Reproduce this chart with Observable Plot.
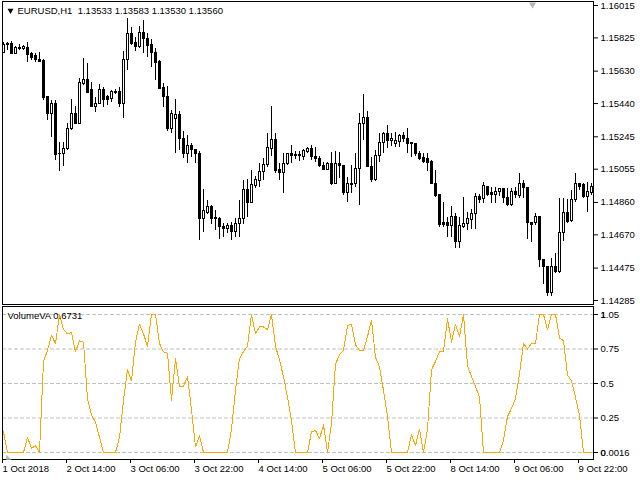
<!DOCTYPE html>
<html><head><meta charset="utf-8">
<script src="https://cdn.jsdelivr.net/npm/d3@7"></script>
<script src="https://cdn.jsdelivr.net/npm/@observablehq/plot@0.6"></script>
<style>
html,body{margin:0;padding:0;background:#fff;}
#wrap{position:relative;width:640px;height:480px;overflow:hidden;background:#fff;}
#wrap svg{position:absolute;left:0;}
</style></head><body><div id="wrap"></div>
<script>
// ---- data (EURUSD H1, one bar per hour) ----
const open = [1.15739,1.15781,1.15787,1.15733,1.15763,1.15757,1.15763,1.15728,1.15716,1.15698,
1.15692,1.15476,1.15381,1.15435,1.15147,1.15147,1.15171,1.15288,1.15381,1.15323,
1.15557,1.15581,1.15517,1.15417,1.15440,1.15517,1.15476,1.15464,1.15505,1.15505,
1.15440,1.15698,1.15850,1.15798,1.15769,1.15856,1.15821,1.15781,1.15739,1.15686,
1.15534,1.15476,1.15288,1.15347,1.15370,1.15235,1.15142,1.15189,1.15165,1.15142,
1.14760,1.14801,1.14831,1.14766,1.14760,1.14714,1.14702,1.14720,1.14684,1.14732,
1.14760,1.14931,1.14854,1.14954,1.14983,1.15036,1.15077,1.15171,1.15224,1.15048,
1.15030,1.15083,1.15142,1.15136,1.15130,1.15124,1.15153,1.15171,1.15124,1.15112,
1.15071,1.15053,1.15083,1.14971,1.15083,1.15071,1.14913,1.14971,1.14966,1.15059,
1.15318,1.15358,1.15065,1.14989,1.15130,1.15206,1.15259,1.15218,1.15200,1.15212,
1.15247,1.15235,1.15206,1.15200,1.15147,1.15118,1.15112,1.15100,1.14971,1.14902,
1.14737,1.14737,1.14720,1.14772,1.14626,1.14714,1.14732,1.14755,1.14790,1.14890,
1.14878,1.14948,1.14913,1.14902,1.14919,1.14936,1.14884,1.14843,1.14919,1.14896,
1.14971,1.14943,1.14737,1.14737,1.14772,1.14520,1.14479,1.14327,1.14479,1.14450,
1.14678,1.14801,1.14749,1.14872,1.14971,1.14960,1.14890,1.14913];
const high = [1.15798,1.15798,1.15804,1.15775,1.15787,1.15781,1.15798,1.15739,1.15733,1.15739,
1.15698,1.15482,1.15458,1.15458,1.15212,1.15212,1.15323,1.15464,1.15423,1.15587,
1.15704,1.15674,1.15563,1.15476,1.15552,1.15534,1.15488,1.15517,1.15522,1.15534,
1.15745,1.15939,1.15886,1.15827,1.15892,1.15927,1.15850,1.15815,1.15763,1.15692,
1.15557,1.15540,1.15399,1.15464,1.15393,1.15276,1.15253,1.15206,1.15171,1.15159,
1.14936,1.14872,1.14843,1.14813,1.14772,1.14737,1.14737,1.14743,1.14766,1.14872,
1.14989,1.14995,1.15048,1.15013,1.15088,1.15118,1.15264,1.15423,1.15264,1.15088,
1.15147,1.15147,1.15194,1.15159,1.15159,1.15171,1.15183,1.15194,1.15183,1.15130,
1.15094,1.15094,1.15153,1.15159,1.15153,1.15077,1.15007,1.15077,1.15147,1.15381,
1.15494,1.15393,1.15124,1.15165,1.15264,1.15270,1.15312,1.15264,1.15270,1.15259,
1.15270,1.15294,1.15206,1.15206,1.15159,1.15147,1.15147,1.15106,1.15048,1.14902,
1.14860,1.14772,1.14837,1.14796,1.14772,1.14890,1.14801,1.14819,1.14913,1.14907,
1.14977,1.14954,1.14948,1.14948,1.14943,1.14943,1.14943,1.14943,1.14948,1.15030,
1.14989,1.14948,1.14743,1.14796,1.14772,1.14520,1.14485,1.14532,1.14561,1.14884,
1.14884,1.14878,1.14931,1.15030,1.14971,1.14971,1.14977,1.14971];
const low = [1.15733,1.15751,1.15728,1.15728,1.15751,1.15751,1.15680,1.15692,1.15680,1.15680,
1.15458,1.15341,1.15241,1.15106,1.15042,1.15071,1.15165,1.15282,1.15318,1.15318,
1.15546,1.15499,1.15417,1.15387,1.15435,1.15417,1.15429,1.15446,1.15494,1.15417,
1.15352,1.15634,1.15781,1.15745,1.15763,1.15733,1.15710,1.15651,1.15575,1.15528,
1.15417,1.15276,1.15264,1.15147,1.15165,1.15118,1.15088,1.15124,1.15088,1.14638,
1.14684,1.14790,1.14732,1.14696,1.14643,1.14655,1.14678,1.14638,1.14655,1.14655,
1.14732,1.14772,1.14854,1.14943,1.14948,1.14989,1.15065,1.15130,1.15030,1.14989,
1.14913,1.15077,1.15088,1.15112,1.15100,1.15106,1.15147,1.15106,1.15094,1.15065,
1.15048,1.15048,1.14960,1.14966,1.15001,1.14902,1.14860,1.14913,1.14948,1.14843,
1.15224,1.15065,1.14977,1.14983,1.15094,1.15147,1.15177,1.15189,1.15183,1.15183,
1.15212,1.15147,1.15124,1.15130,1.15106,1.15088,1.15042,1.14966,1.14890,1.14714,
1.14714,1.14655,1.14655,1.14591,1.14591,1.14708,1.14696,1.14702,1.14702,1.14854,
1.14854,1.14896,1.14854,1.14854,1.14896,1.14854,1.14837,1.14837,1.14884,1.14884,
1.14884,1.14643,1.14626,1.14726,1.14479,1.14380,1.14310,1.14310,1.14444,1.14444,
1.14632,1.14737,1.14743,1.14860,1.14931,1.14884,1.14801,1.14902];
const close = [1.15781,1.15787,1.15733,1.15763,1.15757,1.15769,1.15722,1.15710,1.15698,1.15686,
1.15470,1.15381,1.15435,1.15136,1.15142,1.15171,1.15288,1.15381,1.15323,1.15563,
1.15581,1.15499,1.15417,1.15440,1.15517,1.15458,1.15458,1.15505,1.15499,1.15440,
1.15698,1.15850,1.15792,1.15769,1.15856,1.15821,1.15775,1.15739,1.15680,1.15528,
1.15476,1.15288,1.15376,1.15370,1.15235,1.15142,1.15189,1.15165,1.15142,1.14760,
1.14807,1.14831,1.14760,1.14760,1.14714,1.14702,1.14720,1.14684,1.14732,1.14760,
1.14931,1.14854,1.14960,1.14989,1.15036,1.15077,1.15177,1.15224,1.15042,1.15030,
1.15088,1.15142,1.15130,1.15130,1.15136,1.15159,1.15171,1.15124,1.15112,1.15071,
1.15053,1.15083,1.14971,1.15083,1.15071,1.14913,1.14971,1.14960,1.15059,1.15318,
1.15358,1.15065,1.14989,1.15130,1.15206,1.15259,1.15218,1.15235,1.15218,1.15247,
1.15235,1.15200,1.15200,1.15147,1.15112,1.15100,1.15094,1.14971,1.14896,1.14726,
1.14726,1.14720,1.14772,1.14626,1.14720,1.14732,1.14760,1.14790,1.14890,1.14872,
1.14954,1.14902,1.14902,1.14919,1.14936,1.14884,1.14843,1.14919,1.14902,1.14971,
1.14943,1.14737,1.14726,1.14772,1.14520,1.14479,1.14327,1.14479,1.14450,1.14678,
1.14801,1.14743,1.14872,1.14971,1.14948,1.14890,1.14919,1.14948];
const volumeVA = [0.15,0,0,0,0,0,0.11,0.03,0.05,0,
0.66,0.74,0.85,0.79,1.0,0.89,0.86,0.87,0.73,0.81,
0.80,0.39,0.27,0.22,0.11,0,0,0,0,0.11,
0.38,0.60,0.52,0.80,0.93,0.86,0.77,1.0,1.0,0.79,
0.73,0.72,0.38,0.68,0.48,0.48,0.55,0.31,0.04,0.12,
0,0,0,0,0,0,0,0.17,0.45,0.68,
0.73,0.77,1.0,0.86,0.91,0.91,0.89,1.0,0.77,0.67,
0.55,0.40,0.23,0,0,0,0,0.15,0.16,0.10,
0.20,0,0.21,0.64,0.71,0.74,0.92,0.93,0.78,0.74,
0.74,0.84,0.96,0.69,0.62,0.45,0.26,0,0,0,
0,0,0.13,0.05,0.17,0,0.17,0.60,0.66,0.73,
0.73,0.97,0.80,0.93,0.84,1.0,0.63,0.55,0.48,0.40,
0,0,0,0,0,0.09,0.26,0.32,0.39,0.57,
0.79,0.75,0.79,0.79,1.0,1.0,0.89,1.0,1.0,0.83,
0.81,0.56,0.52,0.40,0.27,0,0,0];
const timeTicks = [0,16,32,48,64,80,96,112,128,144];
const timeLabels = ["1 Oct 2018","2 Oct 14:00","3 Oct 06:00","3 Oct 22:00","4 Oct 14:00","5 Oct 06:00","5 Oct 22:00","8 Oct 14:00","9 Oct 06:00","9 Oct 22:00"];
const priceTicks = [1.16015,1.15825,1.15630,1.15440,1.15245,1.15055,1.14860,1.14670,1.14475,1.14285];
const levelTicks = [1,0.75,0.5,0.25,0];
const levelLabels = ["1.05","0.75","0.5","0.25","0.0016"];
const overlapLabels = ["1", "", "", "", "0"];
const titleText = "EURUSD,H1  1.13533 1.13583 1.13530 1.13560";
const indicatorText = "VolumeVA 0.6731";

// ---- build ----
const candles = open.map((o, i) => ({i, open: o, high: high[i], low: low[i], close: close[i]}));
const ups = candles.filter(d => d.close >= d.open);
const downs = candles.filter(d => d.close < d.open);
const FONT = "'Liberation Sans', Arial, sans-serif";
const xDomain = [-0.25, 147.5];

const topChart = Plot.plot({
  width: 640, height: 305,
  marginLeft: 2, marginRight: 47, marginTop: 1, marginBottom: 1,
  style: {fontFamily: FONT, fontSize: "9.5px", color: "#000", background: "#fff", overflow: "visible"},
  x: {domain: xDomain, axis: null},
  y: {domain: [1.142615, 1.160385]},
  marks: [
    Plot.ruleX(candles, {x: "i", y1: "low", y2: "high", stroke: "#000", strokeWidth: 1, shapeRendering: "crispEdges"}),
    Plot.rect(ups, {x1: d => d.i - 0.25, x2: d => d.i + 0.25, y1: "open", y2: "close", fill: "#fff", stroke: "#000", strokeWidth: 1, shapeRendering: "crispEdges"}),
    Plot.rect(downs, {x1: d => d.i - 0.25, x2: d => d.i + 0.25, y1: "open", y2: "close", fill: "#000", stroke: "#000", strokeWidth: 1, shapeRendering: "crispEdges"}),
    Plot.axisY(priceTicks, {anchor: "right", tickSize: 4, tickPadding: 3, tickFormat: d3.format(".5f"), label: null}),
    Plot.frame({stroke: "#000"}),
    Plot.dot([0], {frameAnchor: "top-left", dx: 8, dy: 9, symbol: "triangle", r: 2.2, fill: "#000", stroke: null, rotate: 180}),
    Plot.text([titleText], {frameAnchor: "top-left", dx: 15, dy: 9, text: d => d, textAnchor: "start", lineAnchor: "middle", fill: "#000"}),
    Plot.dot([0], {frameAnchor: "top-right", dx: -61, dy: 3, symbol: "triangle", r: 2.6, fill: "#b4b4b4", stroke: null, rotate: 180})
  ]
});

const botChart = Plot.plot({
  width: 640, height: 175,
  marginLeft: 2, marginRight: 47, marginTop: 1, marginBottom: 21,
  style: {fontFamily: FONT, fontSize: "9.5px", color: "#000", background: "#fff", overflow: "visible"},
  x: {domain: xDomain},
  y: {domain: [-0.05072, 1.05797]},
  marks: [
    Plot.ruleY(levelTicks, {stroke: "#c0c0c0", strokeDasharray: "4,2"}),
    Plot.line(volumeVA, {x: (d, i) => i, y: d => d, stroke: "#FFA500", strokeWidth: 1, shapeRendering: "crispEdges"}),
    Plot.axisY(levelTicks, {anchor: "right", tickSize: 4, tickPadding: 3, tickFormat: (d, i) => levelLabels[i], label: null}),
    Plot.axisY(levelTicks, {anchor: "right", tickSize: 0, tickPadding: 7, tickFormat: (d, i) => overlapLabels[i], label: null}),
    Plot.axisX(timeTicks, {anchor: "bottom", tickSize: 4, tickPadding: 2, textAnchor: "start", dx: -1, tickFormat: (d, i) => timeLabels[i], label: null}),
    Plot.frame({stroke: "#000"}),
    Plot.text(["◣"], {frameAnchor: "bottom-left", dx: 3, dy: -1, text: d => d, fontSize: 7, textAnchor: "start", lineAnchor: "bottom", fill: "#b8b8b8"}),
    Plot.text([indicatorText], {frameAnchor: "top-left", dx: 5, dy: 9, text: d => d, textAnchor: "start", lineAnchor: "middle", fill: "#000"})
  ]
});

const wrap = document.getElementById("wrap");
topChart.style.top = "0px";
botChart.style.top = "305px";
wrap.appendChild(topChart);
wrap.appendChild(botChart);
</script></body></html>
